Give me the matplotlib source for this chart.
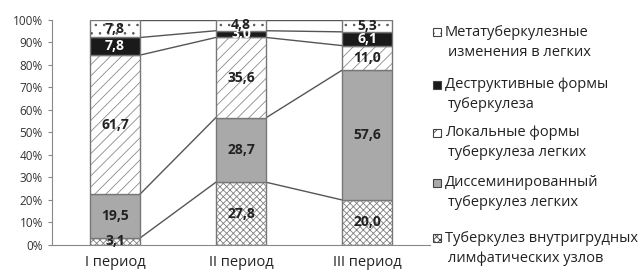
import numpy as np
import matplotlib.pyplot as plt
from matplotlib.patches import Rectangle

plt.rcParams['font.family'] = ['Open Sans', 'DejaVu Sans']
plt.rcParams['hatch.linewidth'] = 0.6

periods = ["I период", "II период", "III период"]
series_names = [
    ["Туберкулез внутригрудных", "лимфатических узлов"],
    ["Диссеминированный", "туберкулез легких"],
    ["Локальные формы", "туберкулеза легких"],
    ["Деструктивные формы", "туберкулеза"],
    ["Метатуберкулезные", "изменения в легких"],
]
lymph = [3.1, 27.8, 20.0]
dissem = [19.5, 28.7, 57.6]
local = [61.7, 35.6, 11.0]
destr = [7.8, 3.0, 6.1]
meta = [7.8, 4.8, 5.3]

series = [lymph, dissem, local, destr, meta]
faces = ["white", "#a9a9a9", "white", "#1a1a1a", "white"]
hatches = ["xxxxx", None, "///", None, ".."]
hatch_cols = ["#808080", None, "#8a8a8a", None, "#555555"]
text_cols = ["#222222", "#222222", "#222222", "white", "#222222"]

W, H = 641, 273
fig = plt.figure(figsize=(W / 100, H / 100), dpi=100)
ax = fig.add_axes([0.081, 0.103, 0.59, 0.824])

x = np.arange(len(periods))
w = 0.4
data = np.array(series, dtype=float)
data = data / data.sum(axis=0) * 100
bottoms = np.zeros(len(periods))
for i, vals in enumerate(data):
    bars = ax.bar(x, vals, w, bottom=bottoms, color=faces[i], edgecolor="#777777",
                  linewidth=1.0, zorder=2)
    if hatches[i]:
        for b in bars:
            b.set_hatch(hatches[i])
            b._hatch_color = plt.matplotlib.colors.to_rgba(hatch_cols[i])
    for xi, v, b0, raw in zip(x, vals, bottoms, series[i]):
        ax.text(xi, b0 + v / 2, f"{raw:.1f}".replace(".", ","), ha="center", va="center",
                fontsize=10, fontweight="bold", color=text_cols[i], zorder=4)
    bottoms = bottoms + vals
    # series lines between bars
    for j in range(len(periods) - 1):
        ax.plot([x[j] + w / 2, x[j + 1] - w / 2], [bottoms[j], bottoms[j + 1]],
                color="#555555", linewidth=1.0, zorder=1)

ax.set_xlim(-0.5, 2.5)
ax.set_ylim(0, 100)
ax.set_yticks(np.arange(0, 101, 10))
ax.set_yticklabels([f"{v}%" for v in range(0, 101, 10)], fontsize=8.5, color="#333333")
ax.set_xticks(x)
ax.set_xticklabels(periods, fontsize=10.5, color="#222222")
ax.tick_params(axis="x", length=0, pad=7)
ax.tick_params(axis="y", length=3, color="#888888")
for s in ["top", "right"]:
    ax.spines[s].set_visible(False)
ax.spines["left"].set_color("#888888")
ax.spines["bottom"].set_color("#888888")

# legend drawn by hand: square aligned with first line of each entry
first_y = [238, 183, 133, 85, 32]
for i, (l1, l2) in enumerate(series_names):
    yc = 1 - first_y[i] / H
    fig.patches.append(Rectangle((433 / W, yc - 4 / H), 8 / W, 8 / H, transform=fig.transFigure,
                                 facecolor=faces[i], edgecolor="#444444", hatch=hatches[i],
                                 linewidth=0.8))
    fig.text(445 / W, yc, l1, fontsize=10.5, color="#222222", va="center", ha="left")
    fig.text(448 / W, yc - 20 / H, l2, fontsize=10.5, color="#222222", va="center", ha="left")

fig.savefig("out.png", dpi=100)
